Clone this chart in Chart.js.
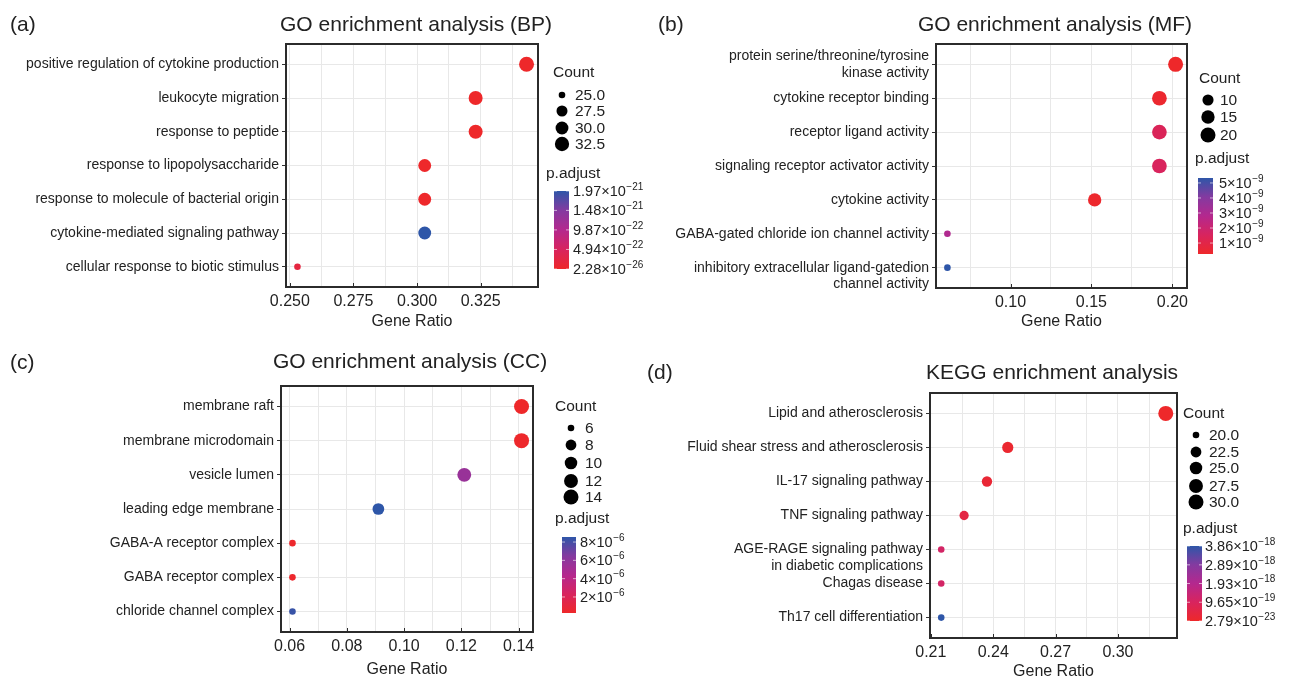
<!DOCTYPE html>
<html>
<head>
<meta charset="utf-8">
<script src="https://cdn.jsdelivr.net/npm/chart.js@4/dist/chart.umd.min.js"></script>
<style>
  html, body { margin: 0; padding: 0; background: #fff; overflow: hidden; }
  #wrap { position: relative; width: 1289px; height: 679px; overflow: hidden; }
  canvas { position: absolute; }
</style>
</head>
<body>
<div id="wrap">
  <canvas id="bp"></canvas>
  <canvas id="mf"></canvas>
  <canvas id="cc"></canvas>
  <canvas id="kegg"></canvas>
</div>
<script>
// ---- data ----
// (a) GO BP
const bpTerms = ['positive regulation of cytokine production', 'leukocyte migration', 'response to peptide',
  'response to lipopolysaccharide', 'response to molecule of bacterial origin',
  'cytokine-mediated signaling pathway', 'cellular response to biotic stimulus'];
const bpRatio = [0.343, 0.323, 0.323, 0.303, 0.303, 0.303, 0.253];
const bpCount = [34, 32, 32, 30, 30, 30, 25];
const bpPadj = [2.28e-26, 3.1e-25, 4.5e-25, 8.0e-24, 9.5e-24, 1.97e-21, 2.1e-22];
const bpXTicks = ['0.250', '0.275', '0.300', '0.325'];
const bpSizeTicks = ['25.0', '27.5', '30.0', '32.5'];
const bpColorTicks = [1.97e-21, 1.48e-21, 9.87e-22, 4.94e-22, 2.28e-26];

// (b) GO MF
const mfTerms = ['protein serine/threonine/tyrosine\nkinase activity', 'cytokine receptor binding',
  'receptor ligand activity', 'signaling receptor activator activity', 'cytokine activity',
  'GABA-gated chloride ion channel activity', '\ninhibitory extracellular ligand-gatedion\nchannel activity'];
const mfRatio = [0.202, 0.192, 0.192, 0.192, 0.152, 0.061, 0.061];
const mfCount = [20, 19, 19, 19, 15, 6, 6];
const mfPadj = [2.7e-10, 4.0e-10, 1.4e-9, 1.5e-9, 3.5e-10, 2.9e-9, 5.33e-9];
const mfXTicks = ['0.10', '0.15', '0.20'];
const mfSizeTicks = ['10', '15', '20'];
const mfColorTicks = [5e-9, 4e-9, 3e-9, 2e-9, 1e-9];

// (c) GO CC
const ccTerms = ['membrane raft', 'membrane microdomain', 'vesicle lumen', 'leading edge membrane',
  'GABA-A receptor complex', 'GABA receptor complex', 'chloride channel complex'];
const ccRatio = [0.141, 0.141, 0.121, 0.091, 0.061, 0.061, 0.061];
const ccCount = [14, 14, 12, 9, 6, 6, 6];
const ccPadj = [2.5e-7, 3.0e-7, 5.6e-6, 8.55e-6, 3.5e-7, 3.6e-7, 8.3e-6];
const ccXTicks = ['0.06', '0.08', '0.10', '0.12', '0.14'];
const ccSizeTicks = ['6', '8', '10', '12', '14'];
const ccColorTicks = [8e-6, 6e-6, 4e-6, 2e-6];

// (d) KEGG
const keggTerms = ['Lipid and atherosclerosis', 'Fluid shear stress and atherosclerosis',
  'IL-17 signaling pathway', 'TNF signaling pathway',
  '\nAGE-RAGE signaling pathway\nin diabetic complications', 'Chagas disease', 'Th17 cell differentiation'];
const keggRatio = [0.323, 0.247, 0.237, 0.226, 0.215, 0.215, 0.215];
const keggCount = [30, 23, 22, 21, 20, 20, 20];
const keggPadj = [2.79e-23, 1.2e-19, 2.0e-19, 4.8e-19, 1.1e-18, 1.1e-18, 3.86e-18];
const keggXTicks = ['0.21', '0.24', '0.27', '0.30'];
const keggSizeTicks = ['20.0', '22.5', '25.0', '27.5', '30.0'];
const keggColorTicks = [3.86e-18, 2.89e-18, 1.93e-18, 9.65e-19, 2.79e-23];

// ---- styling / placement ----
const FONT = '"Liberation Sans", Arial, Helvetica, sans-serif';
const TXT = '#222';
Chart.defaults.font.family = FONT;

// red (low p) -> blue (high p)
const stops = [
  [0, [238, 40, 42]], [0.25, [216, 36, 94]], [0.5, [180, 40, 142]],
  [0.75, [132, 58, 160]], [1, [46, 86, 168]]
];
function gradColor(t) {
  t = Math.max(0, Math.min(1, t));
  for (let i = 1; i < stops.length; i++) {
    if (t <= stops[i][0]) {
      const [t0, c0] = stops[i - 1], [t1, c1] = stops[i];
      const f = (t - t0) / (t1 - t0);
      const c = c0.map((v, k) => Math.round(v + (c1[k] - v) * f));
      return `rgb(${c[0]},${c[1]},${c[2]})`;
    }
  }
}

function drawSci(ctx, v, x, y) {
  const e = Math.floor(Math.log10(v) + 1e-9);
  const m = parseFloat((v / Math.pow(10, e)).toFixed(2)).toString();
  ctx.font = '14.5px ' + FONT;
  const base = m + '×10';
  ctx.fillText(base, x, y);
  const w = ctx.measureText(base).width;
  ctx.font = '10px ' + FONT;
  ctx.fillText('−' + Math.abs(e), x + w + 0.5, y - 5);
}

function makePanel(id, d, L) {
  const [cx, cy, cw, ch] = L.canvas;
  const [pl, pt, pr, pb] = L.plot;
  const cv = document.getElementById(id);
  cv.width = cw; cv.height = ch;
  cv.style.left = cx + 'px'; cv.style.top = cy + 'px';

  const xMin = Math.min(...d.ratio), xMax = Math.max(...d.ratio);
  const pad = (xMax - xMin) * 0.05;
  const lo = xMin - pad, hi = xMax + pad;

  const cMin = Math.min(...d.count), cMax = Math.max(...d.count);
  const radius = c => 3.3 + 4.2 * Math.sqrt(Math.max(0, (c - cMin) / (cMax - cMin)));
  const pMin = Math.min(...d.padj), pMax = Math.max(...d.padj);
  const colorOf = p => gradColor((p - pMin) / (pMax - pMin));

  // major + minor x ticks
  const majors = d.xTicks.map(Number);
  const step = majors[1] - majors[0];
  const xt = [];
  for (let k = -1; k <= 2 * majors.length - 1; k++) {
    const v = majors[0] + k * step / 2;
    if (v >= lo - 1e-9 && v <= hi + 1e-9) xt.push({ value: v, label: k % 2 === 0 ? d.xTicks[k / 2] : '' });
  }

  const n = d.terms.length;
  const panelPlugin = {
    id: 'panel_' + id,
    afterDraw(chart) {
      const ctx = chart.ctx;
      const a = chart.chartArea;
      const xs = chart.scales.x;
      ctx.save();
      // frame
      ctx.strokeStyle = '#2b2b2b';
      ctx.lineWidth = 2;
      ctx.strokeRect(a.left, a.top, a.right - a.left, a.bottom - a.top);
      // inward x ticks
      ctx.lineWidth = 1;
      majors.forEach(v => {
        const x = Math.round(xs.getPixelForValue(v)) + 0.5;
        ctx.beginPath(); ctx.moveTo(x, a.bottom); ctx.lineTo(x, a.bottom - 4); ctx.stroke();
      });
      ctx.translate(-cx, -cy);
      ctx.fillStyle = TXT;
      ctx.textBaseline = 'middle';
      // panel letter + title
      ctx.font = '21px ' + FONT;
      ctx.textAlign = 'left';
      ctx.fillText(L.letter, L.letterPos[0], L.letterPos[1]);
      ctx.textAlign = 'center';
      ctx.fillText(L.title, L.titlePos[0], L.titlePos[1]);
      // size legend
      ctx.textAlign = 'left';
      ctx.font = '15.5px ' + FONT;
      ctx.fillText('Count', L.countTitle[0], L.countTitle[1]);
      d.sizeTicks.forEach((s, i) => {
        const y = L.rows[i];
        ctx.fillStyle = '#000';
        ctx.beginPath(); ctx.arc(L.dotX, y, radius(Number(s)), 0, Math.PI * 2); ctx.fill();
        ctx.fillStyle = TXT;
        ctx.font = '15.5px ' + FONT;
        ctx.fillText(s, L.textX, y + 1);
      });
      // colour legend
      ctx.font = '15.5px ' + FONT;
      ctx.fillText('p.adjust', L.padjTitle[0], L.padjTitle[1]);
      const [bx, by, bw, bh] = L.bar;
      const g = ctx.createLinearGradient(0, by + bh, 0, by);
      stops.forEach(([t, c]) => g.addColorStop(t, `rgb(${c[0]},${c[1]},${c[2]})`));
      ctx.fillStyle = g;
      ctx.fillRect(bx, by, bw, bh);
      d.colorTicks.forEach(v => {
        const y = by + bh - (v - pMin) / (pMax - pMin) * bh;
        ctx.strokeStyle = 'rgba(255,255,255,0.6)';
        ctx.lineWidth = 1;
        ctx.beginPath();
        ctx.moveTo(bx, y); ctx.lineTo(bx + 3, y);
        ctx.moveTo(bx + bw - 3, y); ctx.lineTo(bx + bw, y);
        ctx.stroke();
        ctx.fillStyle = TXT;
        drawSci(ctx, v, L.barLabelX, y + 1);
      });
      ctx.restore();
    }
  };

  return new Chart(cv, {
    type: 'bubble',
    data: {
      datasets: [{
        data: d.ratio.map((r, i) => ({ x: r, y: i, r: radius(d.count[i]) })),
        backgroundColor: d.padj.map(colorOf),
        borderWidth: 0,
        hoverRadius: 0
      }]
    },
    options: {
      responsive: false,
      animation: false,
      events: [],
      layout: { padding: { left: 0, top: pt - cy, right: cx + cw - pr, bottom: 0 } },
      plugins: { legend: { display: false }, tooltip: { enabled: false } },
      scales: {
        x: {
          type: 'linear', min: lo, max: hi,
          afterFit: s => { s.height = cy + ch - pb; },
          afterBuildTicks: s => { s.ticks = xt.map(t => ({ value: t.value })); },
          ticks: {
            callback: (v, i) => xt[i].label,
            font: { size: 16 }, color: TXT, padding: 5, autoSkip: false, maxRotation: 0
          },
          grid: { color: '#e8e8e8', lineWidth: 1, drawTicks: false },
          border: { display: false },
          title: {
            display: true, text: 'Gene Ratio', font: { size: 16 }, color: TXT,
            padding: { top: 0, bottom: cy + ch - L.xTitleY - 9.6 }
          }
        },
        y: {
          type: 'linear', reverse: true, min: -0.6, max: n - 1 + 0.6,
          afterFit: s => { s.width = pl - cx; },
          afterBuildTicks: s => { s.ticks = d.terms.map((t, i) => ({ value: i })); },
          ticks: {
            callback: (v, i) => d.terms[i].split('\n'),
            font: { size: 14 }, color: TXT, padding: 3, autoSkip: false
          },
          grid: { color: '#e8e8e8', lineWidth: 1, drawTicks: true, tickLength: 4, tickColor: '#333' },
          border: { display: false }
        }
      }
    },
    plugins: [panelPlugin]
  });
}

makePanel('bp',
  { terms: bpTerms, ratio: bpRatio, count: bpCount, padj: bpPadj, xTicks: bpXTicks, sizeTicks: bpSizeTicks, colorTicks: bpColorTicks },
  { canvas: [0, 0, 660, 340], plot: [286, 44, 538, 287], letter: '(a)', letterPos: [10, 25],
    title: 'GO enrichment analysis (BP)', titlePos: [416, 25], xTitleY: 322,
    countTitle: [553, 73], dotX: 562, textX: 575, rows: [95, 111, 128, 144],
    padjTitle: [546, 174], bar: [554, 191, 15, 78], barLabelX: 573 });

makePanel('mf',
  { terms: mfTerms, ratio: mfRatio, count: mfCount, padj: mfPadj, xTicks: mfXTicks, sizeTicks: mfSizeTicks, colorTicks: mfColorTicks },
  { canvas: [644, 0, 645, 340], plot: [936, 44, 1187, 288], letter: '(b)', letterPos: [658, 25],
    title: 'GO enrichment analysis (MF)', titlePos: [1055, 25], xTitleY: 322,
    countTitle: [1199, 79], dotX: 1208, textX: 1220, rows: [100, 117, 135],
    padjTitle: [1195, 159], bar: [1198, 178, 15, 76], barLabelX: 1219 });

makePanel('cc',
  { terms: ccTerms, ratio: ccRatio, count: ccCount, padj: ccPadj, xTicks: ccXTicks, sizeTicks: ccSizeTicks, colorTicks: ccColorTicks },
  { canvas: [0, 340, 660, 345], plot: [281, 386, 533, 632], letter: '(c)', letterPos: [10, 363],
    title: 'GO enrichment analysis (CC)', titlePos: [410, 362], xTitleY: 670,
    countTitle: [555, 407], dotX: 571, textX: 585, rows: [428, 445, 463, 481, 497],
    padjTitle: [555, 519], bar: [562, 537, 14, 76], barLabelX: 580 });

makePanel('kegg',
  { terms: keggTerms, ratio: keggRatio, count: keggCount, padj: keggPadj, xTicks: keggXTicks, sizeTicks: keggSizeTicks, colorTicks: keggColorTicks },
  { canvas: [644, 340, 645, 345], plot: [930, 393, 1177, 638], letter: '(d)', letterPos: [647, 373],
    title: 'KEGG enrichment analysis', titlePos: [1052, 373], xTitleY: 672,
    countTitle: [1183, 414], dotX: 1196, textX: 1209, rows: [435, 452, 468, 486, 502],
    padjTitle: [1183, 529], bar: [1187, 546, 15, 75], barLabelX: 1205 });
</script>
</body>
</html>
